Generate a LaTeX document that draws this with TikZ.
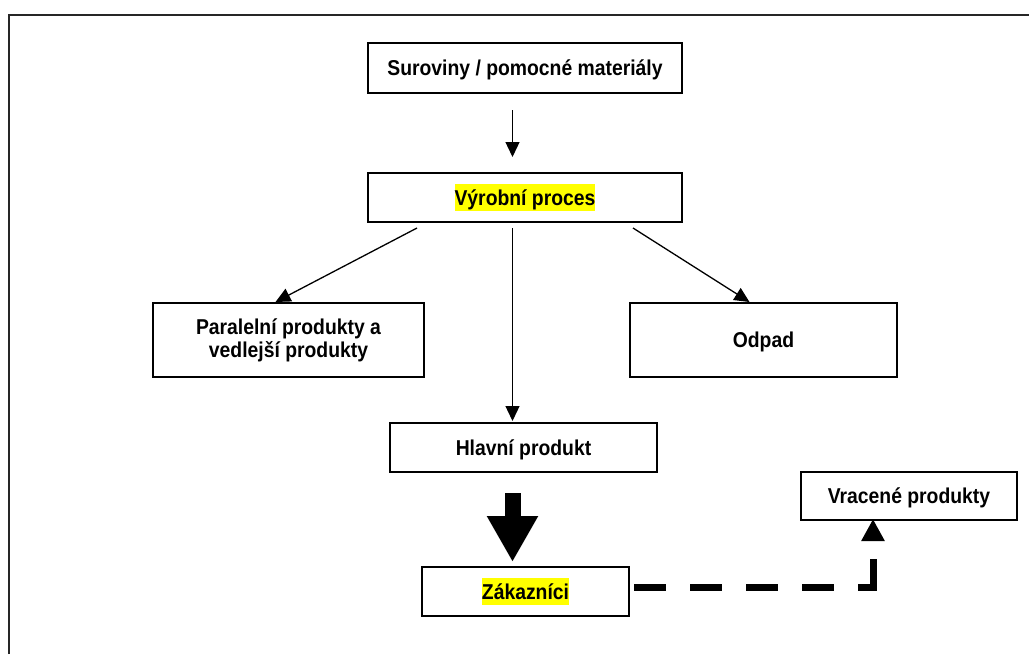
\documentclass[tikz,border=0pt]{standalone}
\usepackage{fontspec}
\setmainfont{Liberation Sans}[FakeStretch=0.9]
\usetikzlibrary{arrows.meta,calc}
\definecolor{hlyellow}{HTML}{FFFF00}
\newcommand{\hlite}[1]{{\setlength{\fboxsep}{0pt}\colorbox{hlyellow}{\rule[-6pt]{0pt}{27pt}#1}}}

\begin{document}
\begin{tikzpicture}[x=1pt, y=-1pt, >={Triangle[width=14pt,length=15pt]},
	basebox/.style={draw, line width=2pt, inner sep=0pt, font=\bfseries\fontsize{21.5}{23}\selectfont},
	box/.style={basebox, text height=21pt, text depth=6pt},
	flow/.style={->, line width=1.3pt},
	dashline/.style={line width=7pt, dash pattern=on 32pt off 24pt},
	frame/.style={line width=1.5pt, black!85}]
		\useasboundingbox (0,0) rectangle (1029,654);
		\draw[frame] (9,654) -- (9,15) -- (1029,15);
		\coordinate (axis) at (512.5,0);
		\node[box, minimum width=314pt, minimum height=50pt] (sur) at (525,68) {Suroviny / pomocné materiály};
		\node[box, minimum width=314pt, minimum height=49pt] (vyr) at (525,197.5) {\hlite{Výrobní proces}};
		\node[basebox, align=center, minimum width=271pt, minimum height=74pt] (par) at (288.5,340) {Paralelní produkty a\\vedlejší produkty};
		\node[box, minimum width=267pt, minimum height=74pt] (odp) at (763.5,340) {Odpad};
		\node[box, minimum width=267pt, minimum height=49pt] (hlav) at (523.5,447.5) {Hlavní produkt};
		\node[box, minimum width=207pt, minimum height=49pt] (zak) at (525.5,591.5) {\hlite{Zákazníci}};
		\node[box, minimum width=216pt, minimum height=48pt] (vrac) at (909,496) {Vracené produkty};
		\coordinate (turn) at ($(zak.east -| vrac.south)+(-36,-4.5)$);
		\draw[flow] ($(sur.south -| axis)+(0,16)$) -- ($(vyr.north -| axis)+(0,-15)$);
		\draw[flow] ($(vyr.south west)+(50,5)$) -- ($(par.north)+(-13,0)$);
		\draw[flow] ($(vyr.south east)+(-50,5)$) -- ($(odp.north)+(-14,0)$);
		\draw[flow] ($(vyr.south -| axis)+(0,5)$) -- ($(hlav.north -| axis)+(0,-1)$);
		\draw[line width=16pt, -{Triangle[width=48pt,length=46pt]}] ($(hlav.south -| axis)+(0,20)$) -- ($(zak.north -| axis)+(0,-4)$);
		\draw[dashline, dash phase=52pt] ($(zak.east)+(0,-4.5)$) -- (turn);
		\draw[dashline, -{Triangle[width=22pt,length=22pt]}] ($(turn)+(0,3.5)$) -- ($(vrac.south)+(-36,-2)$);
		\end{tikzpicture}
\end{document}
